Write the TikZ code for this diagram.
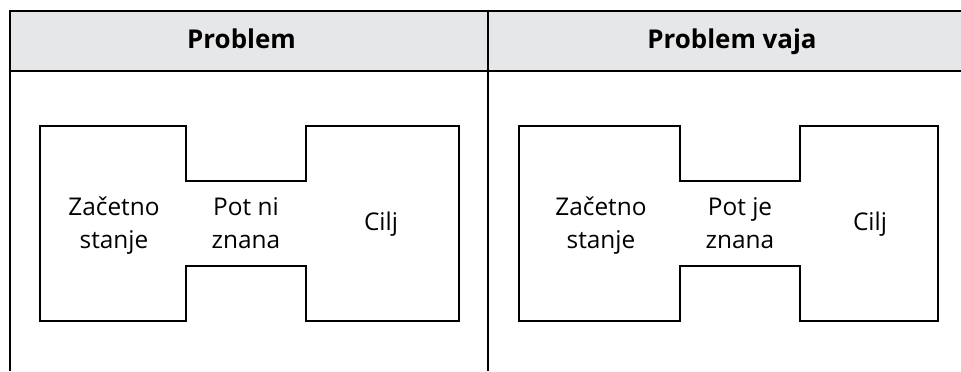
\documentclass[tikz,border=0pt]{standalone}
\usepackage{fontspec}
\setmainfont{Open Sans}
\definecolor{headgray}{HTML}{E6E7E8}
\begin{document}
\begin{tikzpicture}[x=1bp,y=-1bp,
  frame/.style={line width=2.6bp, black},
  outline/.style={line width=2.2bp, black, line join=miter},
  lbl/.style={anchor=base, inner sep=0pt, font=\fontsize{24.5}{33}\selectfont},
  head/.style={anchor=base, inner sep=0pt, font=\fontsize{26}{30}\selectfont\bfseries}]
\useasboundingbox (0,0) rectangle (961,371);
% header fill
\fill[headgray] (10,11) rectangle (961,71);
% table lines
\draw[frame] (10,11) -- (961,11);
\draw[frame] (10,71) -- (961,71);
\draw[frame] (10,9.7) -- (10,371);
\draw[frame] (488,9.7) -- (488,371);
% headers
\node[head] (h1) at (241.5,48.5) {Problem};
\node[head] (h2) at (732,48.5) {Problem vaja};
% left shape
\draw[outline] (40,126) -- (186,126) -- (186,181) -- (306,181) -- (306,126) -- (459,126)
  -- (459,321) -- (306,321) -- (306,266) -- (186,266) -- (186,321) -- (40,321) -- cycle;
% right shape
\draw[outline] (519,126) -- (680,126) -- (680,181) -- (800,181) -- (800,126) -- (938,126)
  -- (938,321) -- (800,321) -- (800,266) -- (680,266) -- (680,321) -- (519,321) -- cycle;
% labels, left
\node[lbl] (a1t) at (114,215) {Začetno};
\node[lbl] (a1b) at (114,248) {stanje};
\node[lbl] (b1t) at (246,215) {Pot ni};
\node[lbl] (b1b) at (246,248) {znana};
\node[lbl] (c1) at (381,230) {Cilj};
% labels, right
\node[lbl] (a2t) at (601,215) {Začetno};
\node[lbl] (a2b) at (601,248) {stanje};
\node[lbl] (b2t) at (740,215) {Pot je};
\node[lbl] (b2b) at (740,248) {znana};
\node[lbl] (c2) at (870,230) {Cilj};
\end{tikzpicture}
\end{document}
